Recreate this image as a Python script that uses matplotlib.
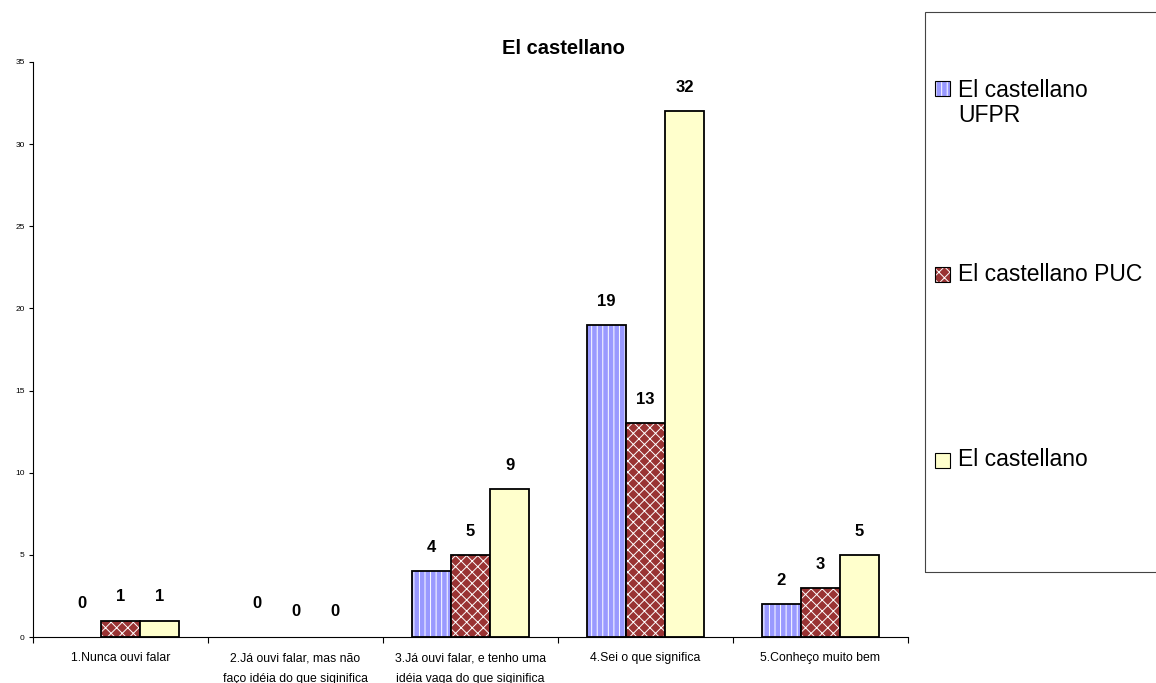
import numpy as np
import matplotlib
matplotlib.use('Agg')
import matplotlib.pyplot as plt
from matplotlib.patches import Rectangle

plt.rcParams['font.family'] = ['Liberation Sans', 'DejaVu Sans']
plt.rcParams['hatch.linewidth'] = 0.7

categories = ['1.Nunca ouvi falar',
              '2.Já ouvi falar, mas não\nfaço idéia do que siginifica',
              '3.Já ouvi falar, e tenho uma\nidéia vaga do que siginifica',
              '4.Sei o que significa',
              '5.Conheço muito bem']
series_names = ['El castellano\nUFPR', 'El castellano PUC', 'El castellano']
ufpr = [0, 0, 4, 19, 2]
puc = [1, 0, 5, 13, 3]
total = [1, 0, 9, 32, 5]

colors = ['#9999ff', '#993333', '#ffffcc']
hatches = ['|||', 'xxx', None]

fig = plt.figure(figsize=(11.56, 6.83), dpi=100)
ax = fig.add_axes([33/1156, 1-637/683, 875/1156, 575/683])

x = np.arange(len(categories))
w = 0.223
series = [ufpr, puc, total]
for i, vals in enumerate(series):
    pos = x + (i - 1) * w
    hv = [v if v > 0 else np.nan for v in vals]
    # fill + white pattern, then black outline
    ax.bar(pos, hv, w, color=colors[i], hatch=hatches[i], edgecolor='white', linewidth=0)
    ax.bar(pos, hv, w, fill=False, edgecolor='black', linewidth=1.3)
    for p, v in zip(pos, vals):
        off = 17
        if v == 0:
            off = 24 if i == 0 else 18
        ax.annotate(str(v), (p, v), xytext=(0, off), textcoords='offset points',
                    ha='center', va='center', fontsize=12, fontweight='bold')

ax.set_xlim(-0.5, 4.5)
ax.set_ylim(0, 35)
ax.set_yticks(range(0, 36, 5))
ax.tick_params(axis='y', labelsize=6, length=3, width=0.8, pad=3)
ax.set_xticks(x)
ax.set_xticklabels(categories, fontsize=8.8, linespacing=1.95)
ax.set_xticks(np.arange(-0.5, 5, 1), minor=True)
ax.tick_params(axis='x', which='major', length=0, pad=11)
ax.tick_params(axis='x', which='minor', length=4, width=0.8, direction='out')
for s in ['top', 'right']:
    ax.spines[s].set_visible(False)
ax.spines['left'].set_linewidth(0.8)
ax.spines['bottom'].set_linewidth(0.8)

fig.text(563/1156, 1-48/683, 'El castellano', ha='center', va='center',
         fontsize=14.5, fontweight='bold')

# legend box
fig.patches.append(Rectangle((925/1156, 1-572/683), 240/1156, 560/683,
                             transform=fig.transFigure, fill=False,
                             edgecolor='#444444', linewidth=0.8))
ys = [88, 274, 460]
for i in range(3):
    yy = 1 - ys[i]/683
    bx, by = 935/1156, yy - 8/683
    fig.patches.append(Rectangle((bx, by), 15/1156, 15/683, transform=fig.transFigure,
                                 facecolor=colors[i], hatch=hatches[i], edgecolor='white',
                                 linewidth=0))
    fig.patches.append(Rectangle((bx, by), 15/1156, 15/683, transform=fig.transFigure,
                                 fill=False, edgecolor='black', linewidth=0.8))
    ty = 1 - (79 if i == 0 else ys[i])/683
    fig.text(958/1156, ty, series_names[i], ha='left', va='top' if i == 0 else 'center',
             fontsize=16.5, linespacing=1.1)

fig.savefig('out.png', dpi=100)
